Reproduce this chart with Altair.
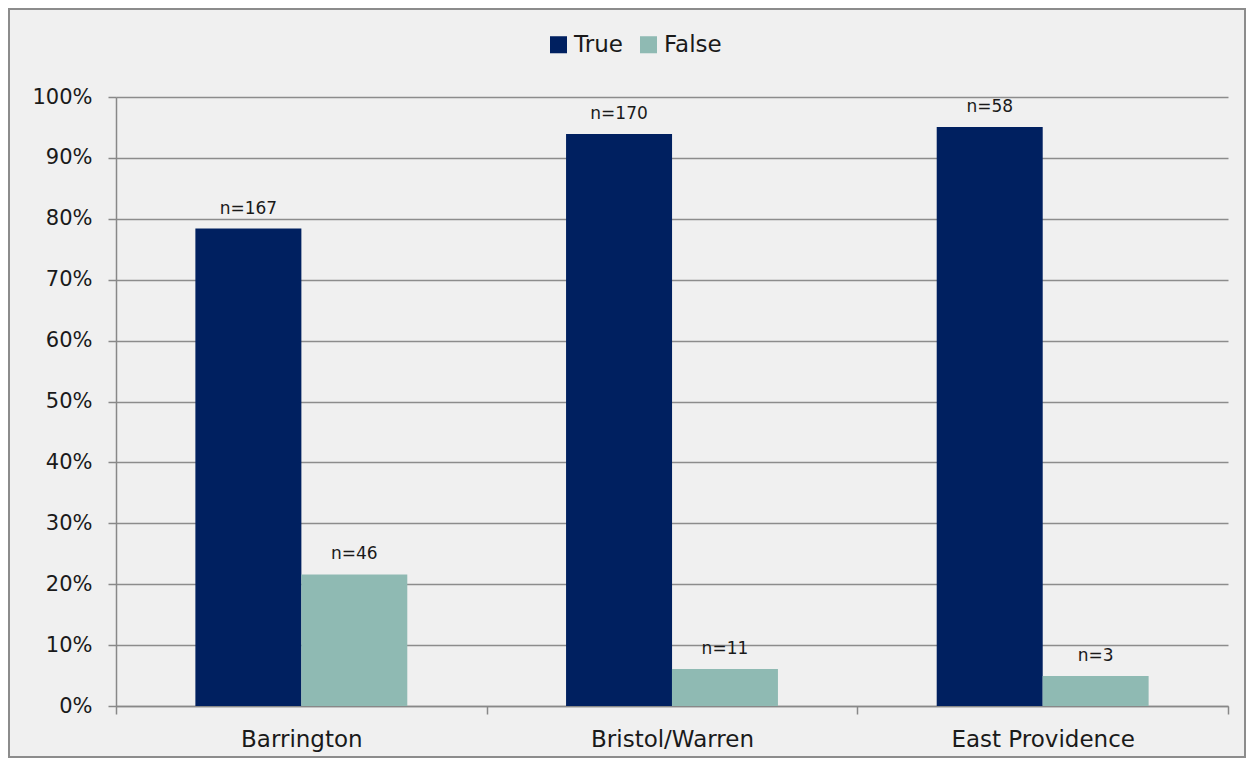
import altair as alt
import pandas as pd

regions = ["Barrington", "Bristol/Warren", "East Providence"]
groups = ["True", "False"]
counts_true = [167, 170, 58]
counts_false = [46, 11, 3]

rows = []
for r, t, f in zip(regions, counts_true, counts_false):
    total = t + f
    rows.append({"region": r, "group": "True", "n": t, "pct": t / total})
    rows.append({"region": r, "group": "False", "n": f, "pct": f / total})
df = pd.DataFrame(rows)
df["label"] = "n=" + df["n"].astype(str)

FONT = "DejaVu Sans"
W, H = 1112, 609

x = alt.X("region:N", sort=regions, title=None,
          scale=alt.Scale(paddingInner=0, paddingOuter=0),
          axis=alt.Axis(labelFontSize=23, labelColor="#1a1a1a", labelFont=FONT,
                        labelAngle=0, labelPadding=14, tickBand="extent",
                        labelLimit=400,
                        tickSize=8, tickColor="#888888", domainColor="#888888",
                        domainWidth=1.5, tickWidth=1.5))
xo = alt.XOffset("group:N", sort=groups,
                 scale=alt.Scale(paddingInner=0, paddingOuter=0.75))
y = alt.Y("pct:Q", title=None,
          scale=alt.Scale(domain=[0, 1]),
          axis=alt.Axis(format=".0%", values=[i / 10 for i in range(11)],
                        labelFontSize=21, labelColor="#1a1a1a", labelFont=FONT,
                        tickSize=8, tickColor="#888888", domainColor="#888888",
                        domainWidth=1.5, tickWidth=1.5, labelPadding=16,
                        grid=True, gridColor="#8c8c8c", gridWidth=1.5))

color = alt.Color("group:N", sort=groups,
                  scale=alt.Scale(domain=groups, range=["#002060", "#8fbab3"]),
                  legend=alt.Legend(title=None, orient="none", direction="horizontal",
                                    legendX=431, legendY=-64, symbolType="square",
                                    symbolSize=290, symbolStrokeWidth=0,
                                    labelFontSize=23, labelFont=FONT,
                                    labelColor="#1a1a1a", columnPadding=14,
                                    labelOffset=4))

bars = alt.Chart(df).mark_bar(size=106).encode(x=x, xOffset=xo, y=y, color=color)

labels = alt.Chart(df).mark_text(baseline="bottom", dy=-11, fontSize=17,
                                 font=FONT, color="#1a1a1a").encode(
    x=alt.X("region:N", sort=regions), xOffset=alt.XOffset("group:N", sort=groups),
    y="pct:Q", text="label:N")

border = alt.Chart(pd.DataFrame({"a": [0]})).mark_rect(
    fill=None, stroke="#8c8c8c", strokeWidth=2).encode(
    x=alt.value(-107), x2=alt.value(W + 17), y=alt.value(-88), y2=alt.value(H + 51))

chart = alt.layer(border, bars, labels).properties(
    width=W, height=H,
    padding={"left": 108, "top": 89, "right": 18, "bottom": 52},
    autosize=alt.AutoSizeParams(type="none"),
    background="#f0f0f0",
).configure_view(stroke=None)

chart.save("out.html", embed_options={"renderer": "svg", "actions": False})
